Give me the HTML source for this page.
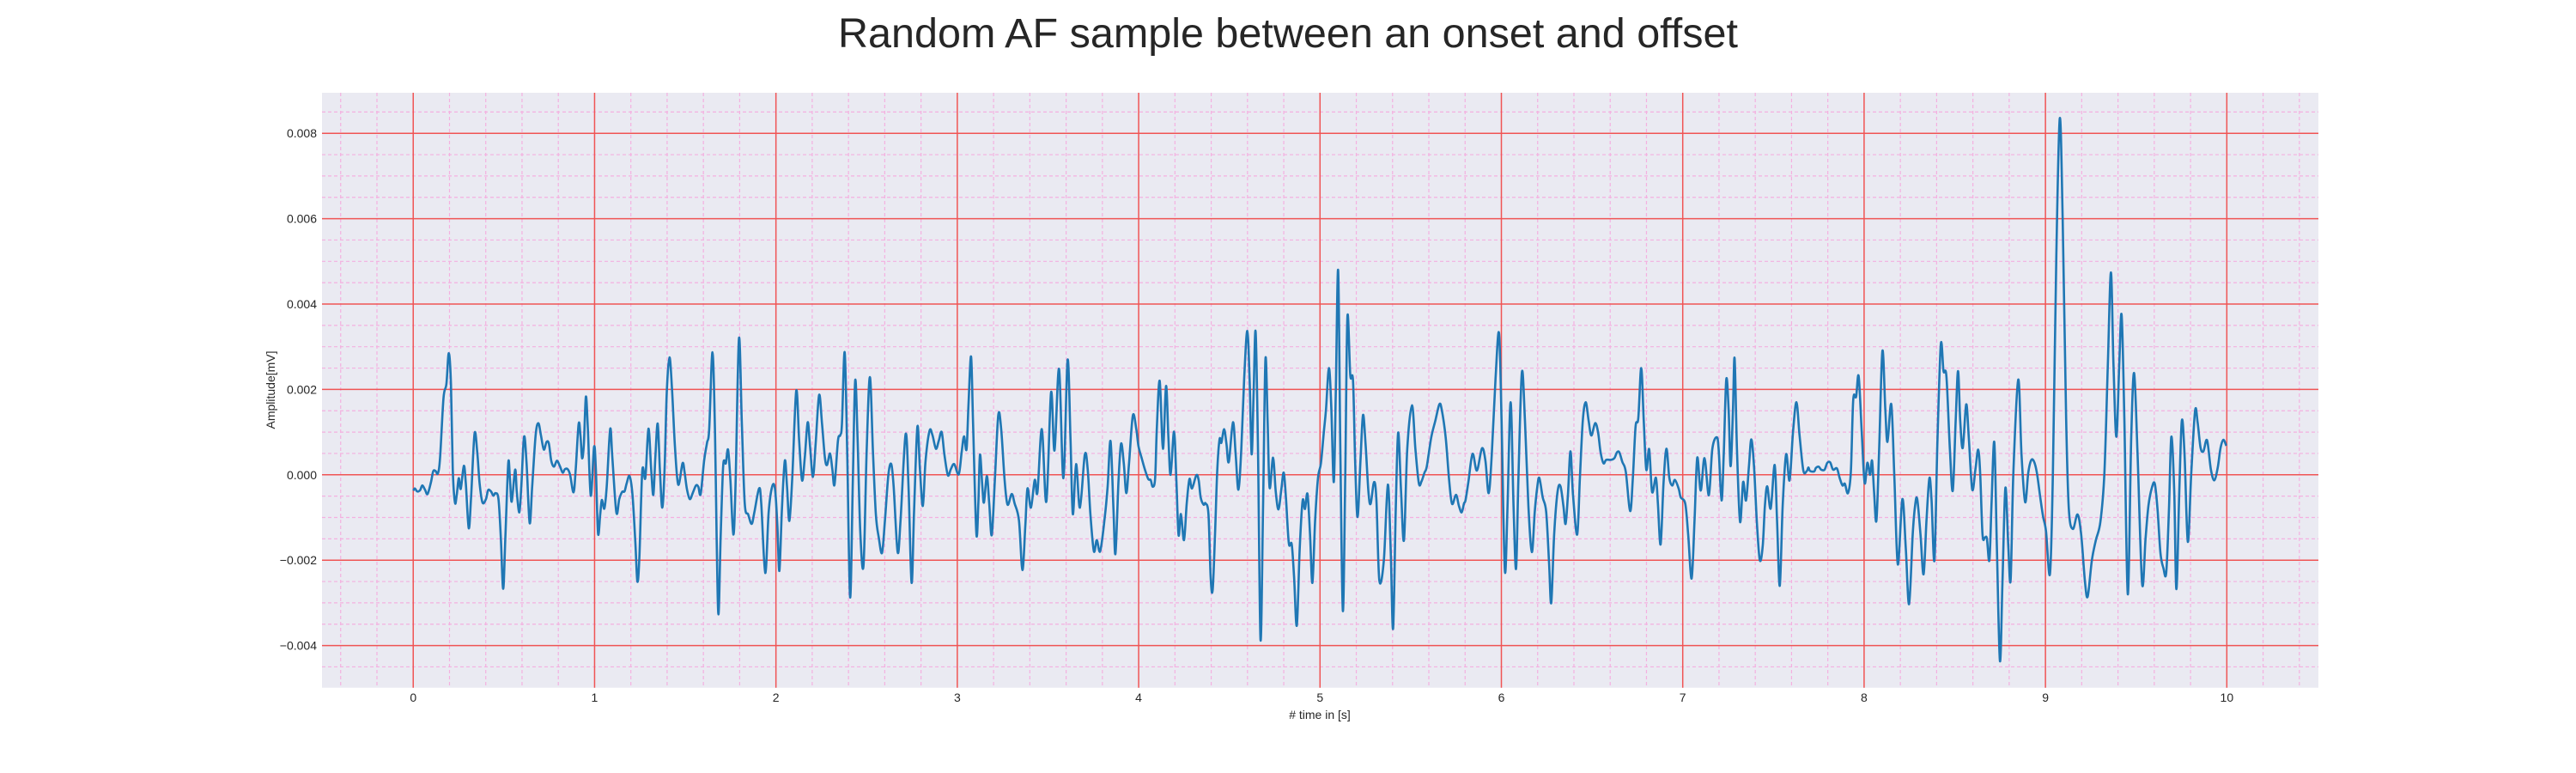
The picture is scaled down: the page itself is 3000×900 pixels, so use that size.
<!DOCTYPE html>
<html><head><meta charset="utf-8">
<style>
html,body{margin:0;padding:0;background:#fff;}
svg{display:block;font-family:"Liberation Sans",Arial,sans-serif;}
</style></head>
<body>
<svg id="chart" width="3000" height="900" viewBox="0 0 3000 900" xmlns="http://www.w3.org/2000/svg">
<text x="1500" y="55" font-size="48.5" text-anchor="middle" fill="#262626">Random AF sample between an onset and offset</text>
<rect x="375" y="108" width="2325" height="692.7" fill="#eaeaf2"/>
<g id="grid-minor"></g>
<g id="grid-major"></g>
<g id="series"></g>
<g id="xticks"></g>
<g id="yticks"></g>
<text x="1537" y="837" font-size="14" text-anchor="middle" fill="#262626"># time in [s]</text>
<text x="0" y="0" font-size="14" text-anchor="middle" fill="#262626" transform="translate(320,454) rotate(-90)">Amplitude[mV]</text>
</svg>
<script>
// signal data: time in seconds, amplitude in units of 1e-3 mV
const times = [0.000,0.009,0.022,0.038,0.050,0.065,0.079,0.098,0.110,0.123,0.136,0.148,0.167,0.183,0.196,0.208,0.218,0.230,0.240,0.251,0.262,0.279,0.290,0.306,0.319,0.338,0.353,0.366,0.382,0.401,0.413,0.429,0.442,0.454,0.470,0.483,0.496,0.508,0.524,0.533,0.543,0.562,0.571,0.585,0.596,0.611,0.625,0.642,0.656,0.675,0.690,0.704,0.720,0.735,0.748,0.761,0.776,0.792,0.808,0.824,0.836,0.852,0.865,0.884,0.896,0.912,0.922,0.931,0.941,0.952,0.963,0.979,0.997,1.007,1.019,1.031,1.040,1.054,1.067,1.086,1.098,1.120,1.136,1.152,1.165,1.177,1.193,1.209,1.225,1.236,1.247,1.263,1.280,1.297,1.312,1.324,1.335,1.348,1.360,1.373,1.386,1.398,1.413,1.427,1.443,1.461,
1.485,1.496,1.509,1.525,1.541,1.559,1.572,1.585,1.604,1.620,1.632,1.650,1.664,1.673,1.683,1.695,1.708,1.717,1.724,1.736,1.749,1.765,1.777,1.796,1.812,1.828,1.847,1.866,1.881,1.907,1.919,1.941,1.960,1.979,1.995,2.008,2.019,2.033,2.049,2.061,2.074,2.090,2.112,2.128,2.144,2.159,2.175,2.188,2.204,2.219,2.238,2.254,2.270,2.282,2.298,2.311,2.323,2.342,2.355,2.364,2.379,2.393,2.409,2.424,2.437,2.450,2.465,2.483,2.500,2.518,2.535,2.551,2.567,2.585,2.601,2.620,2.636,2.649,2.671,2.687,2.715,2.731,2.748,2.762,2.780,2.794,2.810,2.825,2.847,2.863,2.882,2.898,2.914,2.929,
2.948,2.964,2.983,3.008,3.024,3.037,3.051,3.062,3.076,3.087,3.105,3.116,3.125,3.138,3.147,3.163,3.176,3.190,3.207,3.226,3.242,3.261,3.277,3.300,3.316,3.340,3.359,3.375,3.387,3.406,3.427,3.442,3.466,3.491,3.517,3.536,3.561,3.585,3.608,3.624,3.637,3.655,3.676,3.703,3.719,3.734,3.753,3.769,3.788,3.813,3.829,3.845,3.861,3.872,3.889,3.903,3.918,3.932,3.947,3.968,3.987,3.999,4.018,4.034,4.053,4.066,4.078,4.091,4.100,4.116,4.134,4.151,4.164,4.176,4.195,4.208,4.220,4.233,4.250,4.265,4.280,4.294,4.318,4.331,4.342,4.358,4.369,4.385,4.397,
4.408,4.421,4.433,4.446,4.456,4.471,4.484,4.497,4.520,4.535,4.550,4.566,4.582,4.599,4.612,4.623,4.634,4.645,4.658,4.672,4.686,4.699,4.711,4.722,4.741,4.756,4.771,4.787,4.800,4.812,4.828,4.844,4.857,4.872,4.888,4.904,4.917,4.931,4.945,4.958,4.973,4.989,5.005,5.021,5.033,5.049,5.062,5.076,5.087,5.100,5.112,5.126,5.139,5.151,5.167,5.182,5.194,5.207,5.223,5.237,5.251,5.267,5.279,5.298,5.311,5.327,5.352,5.374,5.390,5.403,5.418,5.431,5.447,5.463,5.481,5.507,5.526,5.545,5.560,5.576,5.589,5.613,5.636,5.658,5.671,5.693,5.712,5.728,5.750,5.766,5.781,5.794,
5.802,5.818,5.841,5.865,5.893,5.912,5.930,5.947,5.968,5.987,6.001,6.010,6.021,6.034,6.051,6.067,6.081,6.094,6.113,6.130,6.149,6.168,6.184,6.197,6.209,6.228,6.247,6.263,6.275,6.291,6.310,6.326,6.342,6.354,6.367,6.381,6.395,6.418,6.433,6.449,6.465,6.481,6.496,6.517,6.533,6.547,6.563,6.578,6.604,6.623,6.638,6.651,6.667,6.686,6.710,6.725,6.740,6.755,6.771,6.785,6.799,6.815,6.831,6.852,6.863,6.878,6.894,6.910,6.926,6.942,6.957,6.978,6.989,7.014,7.030,7.049,7.065,7.080,7.099,7.120,7.144,7.163,7.187,
7.198,7.214,7.226,7.240,7.253,7.264,7.277,7.286,7.299,7.316,7.333,7.349,7.365,7.378,7.393,7.409,7.425,7.441,7.453,7.466,7.485,7.507,7.520,7.535,7.551,7.570,7.589,7.608,7.627,7.644,7.665,7.684,7.693,7.702,7.725,7.734,7.750,7.763,7.782,7.797,7.813,7.829,7.850,7.865,7.881,7.894,7.911,7.927,7.940,7.956,7.970,7.987,8.003,8.018,8.033,8.044,8.055,8.068,8.083,8.101,8.117,8.129,8.150,8.167,8.186,8.211,8.230,8.248,8.268,8.281,8.293,8.311,8.328,8.344,8.360,8.372,8.388,8.404,8.423,8.438,8.454,8.473,8.489,8.505,8.518,8.530,8.544,8.563,
8.577,8.596,8.614,8.629,8.640,8.653,8.666,8.677,8.691,8.703,8.718,8.732,8.749,8.763,8.779,8.795,8.808,8.823,8.850,8.868,8.888,8.905,8.921,8.937,8.953,8.972,8.987,9.003,9.025,9.041,9.060,9.079,9.095,9.114,9.129,9.151,9.177,9.197,9.218,9.233,9.256,9.278,9.303,9.325,9.344,9.361,9.375,9.391,9.407,9.420,9.435,9.454,9.473,9.489,9.508,9.533,9.552,9.568,9.587,9.603,9.618,9.634,9.650,9.666,9.681,9.694,9.710,9.722,9.738,9.752,9.767,9.785,9.804,9.825,9.839,9.855,9.871,9.891,9.912,9.931,9.950,9.965,9.981,9.997];
const values = [-0.37,-0.32,-0.39,-0.36,-0.25,-0.35,-0.45,-0.17,0.08,0.09,0.03,0.40,1.80,2.13,2.85,2.13,0.13,-0.65,-0.47,-0.08,-0.33,0.21,-0.20,-1.25,-0.53,0.96,0.53,-0.20,-0.65,-0.57,-0.36,-0.39,-0.49,-0.43,-0.57,-1.47,-2.67,-1.47,0.27,-0.07,-0.63,0.12,-0.40,-0.88,-0.27,0.89,0.27,-1.13,-0.27,0.93,1.21,0.93,0.59,0.77,0.73,0.33,0.19,0.33,0.21,0.05,0.13,0.13,0.00,-0.41,0.13,1.19,0.93,0.39,0.73,1.83,1.07,-0.49,0.65,0.13,-1.37,-0.93,-0.59,-0.79,-0.27,1.07,0.40,-0.88,-0.57,-0.40,-0.39,-0.20,-0.03,-0.47,-1.60,-2.50,-1.93,0.09,-0.07,1.08,0.13,-0.47,0.40,1.20,0.13,-0.77,0.13,1.93,2.75,2.00,0.67,-0.23,
0.27,0.07,-0.33,-0.57,-0.43,-0.25,-0.28,-0.45,0.33,0.75,1.07,2.87,1.00,-1.47,-3.27,-1.47,0.13,0.33,0.27,0.59,-0.13,-1.40,-0.27,3.19,1.20,-0.67,-0.93,-1.15,-0.88,-0.32,-0.67,-2.30,-0.87,-0.28,-0.33,-1.20,-2.25,-0.80,0.33,-0.27,-1.08,-0.07,1.97,0.80,-0.13,0.40,1.23,0.67,-0.05,0.73,1.87,1.20,0.40,0.23,0.50,0.13,-0.23,0.80,0.93,1.20,2.87,0.53,-2.87,-0.13,2.21,0.87,-1.33,-2.12,0.53,2.29,0.53,-0.93,-1.47,-1.83,-1.07,0.00,0.25,-0.27,-1.81,-1.07,0.95,-0.27,-2.53,-0.80,1.13,0.13,-0.73,0.33,1.03,0.93,0.61,0.80,1.00,0.47,
-0.01,0.13,0.25,0.01,0.53,0.90,0.60,1.67,2.77,1.20,-1.37,-0.67,0.47,-0.27,-0.65,-0.03,-0.67,-1.41,-0.13,1.40,1.07,-0.13,-0.70,-0.45,-0.67,-1.07,-2.23,-1.20,-0.32,-0.77,-0.12,-0.41,1.07,-0.63,1.93,0.57,2.48,-0.08,2.69,0.87,-0.92,0.25,-0.77,0.47,0.13,-0.93,-1.79,-1.53,-1.79,-1.00,-0.27,0.79,-0.80,-1.85,-0.13,0.73,0.27,-0.43,0.27,1.39,1.07,0.67,0.37,0.13,-0.10,-0.12,-0.28,-0.07,1.07,2.20,0.61,2.08,0.87,0.00,1.01,-0.13,-1.41,-0.92,-1.53,-0.67,-0.10,-0.32,-0.01,-0.13,-0.53,-0.70,-0.67,-0.93,-2.40,
-2.70,-1.40,0.07,0.83,0.75,1.07,0.73,0.30,1.23,0.47,-0.35,0.60,2.27,3.37,2.20,0.48,1.93,3.35,0.60,-3.87,-0.73,2.70,1.27,-0.30,0.40,-0.40,-0.81,-0.33,0.05,-0.53,-1.60,-1.63,-2.40,-3.53,-1.73,-0.61,-0.80,-0.45,-1.40,-2.53,-1.07,-0.07,0.27,1.00,1.53,2.50,1.60,-0.17,1.93,4.79,0.60,-3.19,-0.07,3.69,2.33,2.20,0.27,-0.99,0.33,1.40,0.73,-0.40,-0.68,-0.17,-0.60,-2.47,-2.00,-0.23,-1.80,-3.60,-0.73,0.99,-0.40,-1.53,0.60,1.63,0.60,-0.20,-0.15,0.05,0.20,0.87,1.27,1.65,1.53,0.87,-0.13,-0.68,-0.47,-0.73,-0.88,-0.67,
-0.60,-0.17,0.49,0.10,0.62,0.33,-0.43,0.47,2.27,3.32,1.27,-0.73,-2.30,-0.73,1.70,-0.73,-2.20,-0.07,2.40,1.27,-0.73,-1.81,-0.87,-0.32,-0.07,-0.53,-0.87,-2.07,-3.00,-1.40,-0.39,-0.27,-0.73,-1.15,-0.47,0.55,-0.47,-1.40,-0.07,1.27,1.70,1.27,0.92,1.21,1.00,0.53,0.27,0.35,0.35,0.39,0.53,0.52,0.30,0.07,-0.85,-0.07,1.13,1.33,2.50,1.27,0.12,0.60,-0.40,-0.07,-0.67,-1.63,-0.20,0.61,-0.07,-0.25,-0.12,-0.33,-0.53,-0.68,-1.40,-2.43,-1.07,0.40,-0.37,0.39,-0.48,0.60,0.88,
0.60,-0.60,0.47,2.23,1.53,0.20,1.53,2.73,0.60,-1.10,-0.17,-0.60,0.20,0.83,0.20,-1.13,-2.00,-1.67,-0.73,-0.27,-0.79,0.23,-1.07,-2.60,-0.73,0.48,-0.13,1.00,1.70,0.93,0.10,0.09,0.17,0.09,0.08,0.16,0.19,0.12,0.12,0.28,0.29,0.12,0.15,-0.07,-0.25,-0.21,-0.43,0.07,1.75,1.83,2.31,1.00,-0.19,0.28,0.00,0.33,-0.40,-1.07,0.60,2.90,1.53,0.77,1.65,-0.07,-2.10,-0.57,-1.73,-3.03,-1.40,-0.73,-0.57,-1.40,-2.33,-1.07,-0.08,-0.60,-2.00,0.73,3.05,2.43,2.30,0.60,-0.37,1.27,2.43,1.27,0.63,1.65,
0.89,-0.34,0.13,0.59,0.04,-1.40,-1.47,-1.49,-2.00,-0.64,0.76,-1.66,-4.36,-2.51,-0.31,-1.66,-2.46,0.04,2.23,0.47,-0.64,0.04,0.34,0.31,0.04,-0.55,-0.98,-1.32,-2.32,0.04,5.14,8.35,5.98,1.32,-0.81,-1.27,-0.93,-1.40,-2.51,-2.85,-2.00,-1.53,-1.10,0.04,2.59,4.74,2.59,0.89,2.59,3.74,1.32,-2.80,0.89,2.38,0.47,-2.55,-1.49,-0.72,-0.30,-0.21,-0.81,-1.83,-2.18,-2.29,-0.81,0.89,-0.38,-2.68,-0.38,1.27,0.47,-1.57,0.04,1.50,1.23,0.64,0.55,0.81,0.13,-0.13,0.17,0.62,0.82,0.68];
const xTickLabels = ["0","1","2","3","4","5","6","7","8","9","10"];
const yTickValues = [-4,-2,0,2,4,6,8];
const yTickLabels = ["\u22120.004","\u22120.002","0.000","0.002","0.004","0.006","0.008"];

const SVGNS = "http://www.w3.org/2000/svg";
const plotL = 375, plotR = 2700, plotT = 108, plotB = 800.7;
const xMin = -0.503, xMax = 10.505, yMin = -4.988, yMax = 8.95;
function xScale(t){ return plotL + (t - xMin) / (xMax - xMin) * (plotR - plotL); }
function yScale(v){ return plotB - (v - yMin) / (yMax - yMin) * (plotB - plotT); }

function mk(tag, attrs, parent){
  const el = document.createElementNS(SVGNS, tag);
  for (const k in attrs) el.setAttribute(k, attrs[k]);
  parent.appendChild(el);
  return el;
}

const gMinor = document.getElementById('grid-minor');
const gMajor = document.getElementById('grid-major');
for (let i = -2; i <= 52; i++) {
  if (i % 5 === 0) continue;
  const x = xScale(i * 0.2);
  if (x < plotL || x > plotR) continue;
  const l = mk('line', {x1:x, x2:x, y1:plotT, y2:plotB, stroke:'#f4b0e0', 'stroke-width':1.2, 'stroke-dasharray':'4,3'}, gMinor);
  
  
}
for (let i = -10; i <= 18; i++) {
  if (i % 4 === 0) continue;
  const y = yScale(i * 0.5);
  if (y < plotT || y > plotB) continue;
  const l = mk('line', {x1:plotL, x2:plotR, y1:y, y2:y, stroke:'#f4b0e0', 'stroke-width':1.2, 'stroke-dasharray':'4,3'}, gMinor);
  
  
}
const gx = document.getElementById('xticks');
xTickLabels.forEach((lab, i) => {
  const x = xScale(Number(lab));
  const l = mk('line', {x1:x, x2:x, y1:plotT, y2:plotB, stroke:'#f05454', 'stroke-width':1.5}, gMajor);
  
  
  const t = mk('text', {x:x, y:817, 'font-size':14, 'text-anchor':'middle', fill:'#262626'}, gx);
  t.textContent = lab;
  
  
});
const gy = document.getElementById('yticks');
yTickValues.forEach((v, i) => {
  const y = yScale(v);
  const l = mk('line', {x1:plotL, x2:plotR, y1:y, y2:y, stroke:'#f05454', 'stroke-width':1.5}, gMajor);
  
  
  const t = mk('text', {x:369, y:y+5, 'font-size':14, 'text-anchor':'end', fill:'#262626'}, gy);
  t.textContent = yTickLabels[i];
  
  
});

const pts = times.map((t, i) => [xScale(t), yScale(values[i])]);
let d = 'M' + pts[0][0].toFixed(2) + ',' + pts[0][1].toFixed(2);
for (let i = 0; i < pts.length - 1; i++) {
  const p0 = pts[Math.max(0, i-1)], p1 = pts[i], p2 = pts[i+1], p3 = pts[Math.min(pts.length-1, i+2)];
  const c1x = p1[0] + (p2[0]-p0[0])/6, c1y = p1[1] + (p2[1]-p0[1])/6;
  const c2x = p2[0] - (p3[0]-p1[0])/6, c2y = p2[1] - (p3[1]-p1[1])/6;
  d += 'C' + c1x.toFixed(2)+','+c1y.toFixed(2)+' '+c2x.toFixed(2)+','+c2y.toFixed(2)+' '+p2[0].toFixed(2)+','+p2[1].toFixed(2);
}
const path = mk('path', {d:d, fill:'none', stroke:'#1f77b4', 'stroke-width':2.6, 'stroke-linejoin':'round'}, document.getElementById('series'));


</script>
</body></html>
